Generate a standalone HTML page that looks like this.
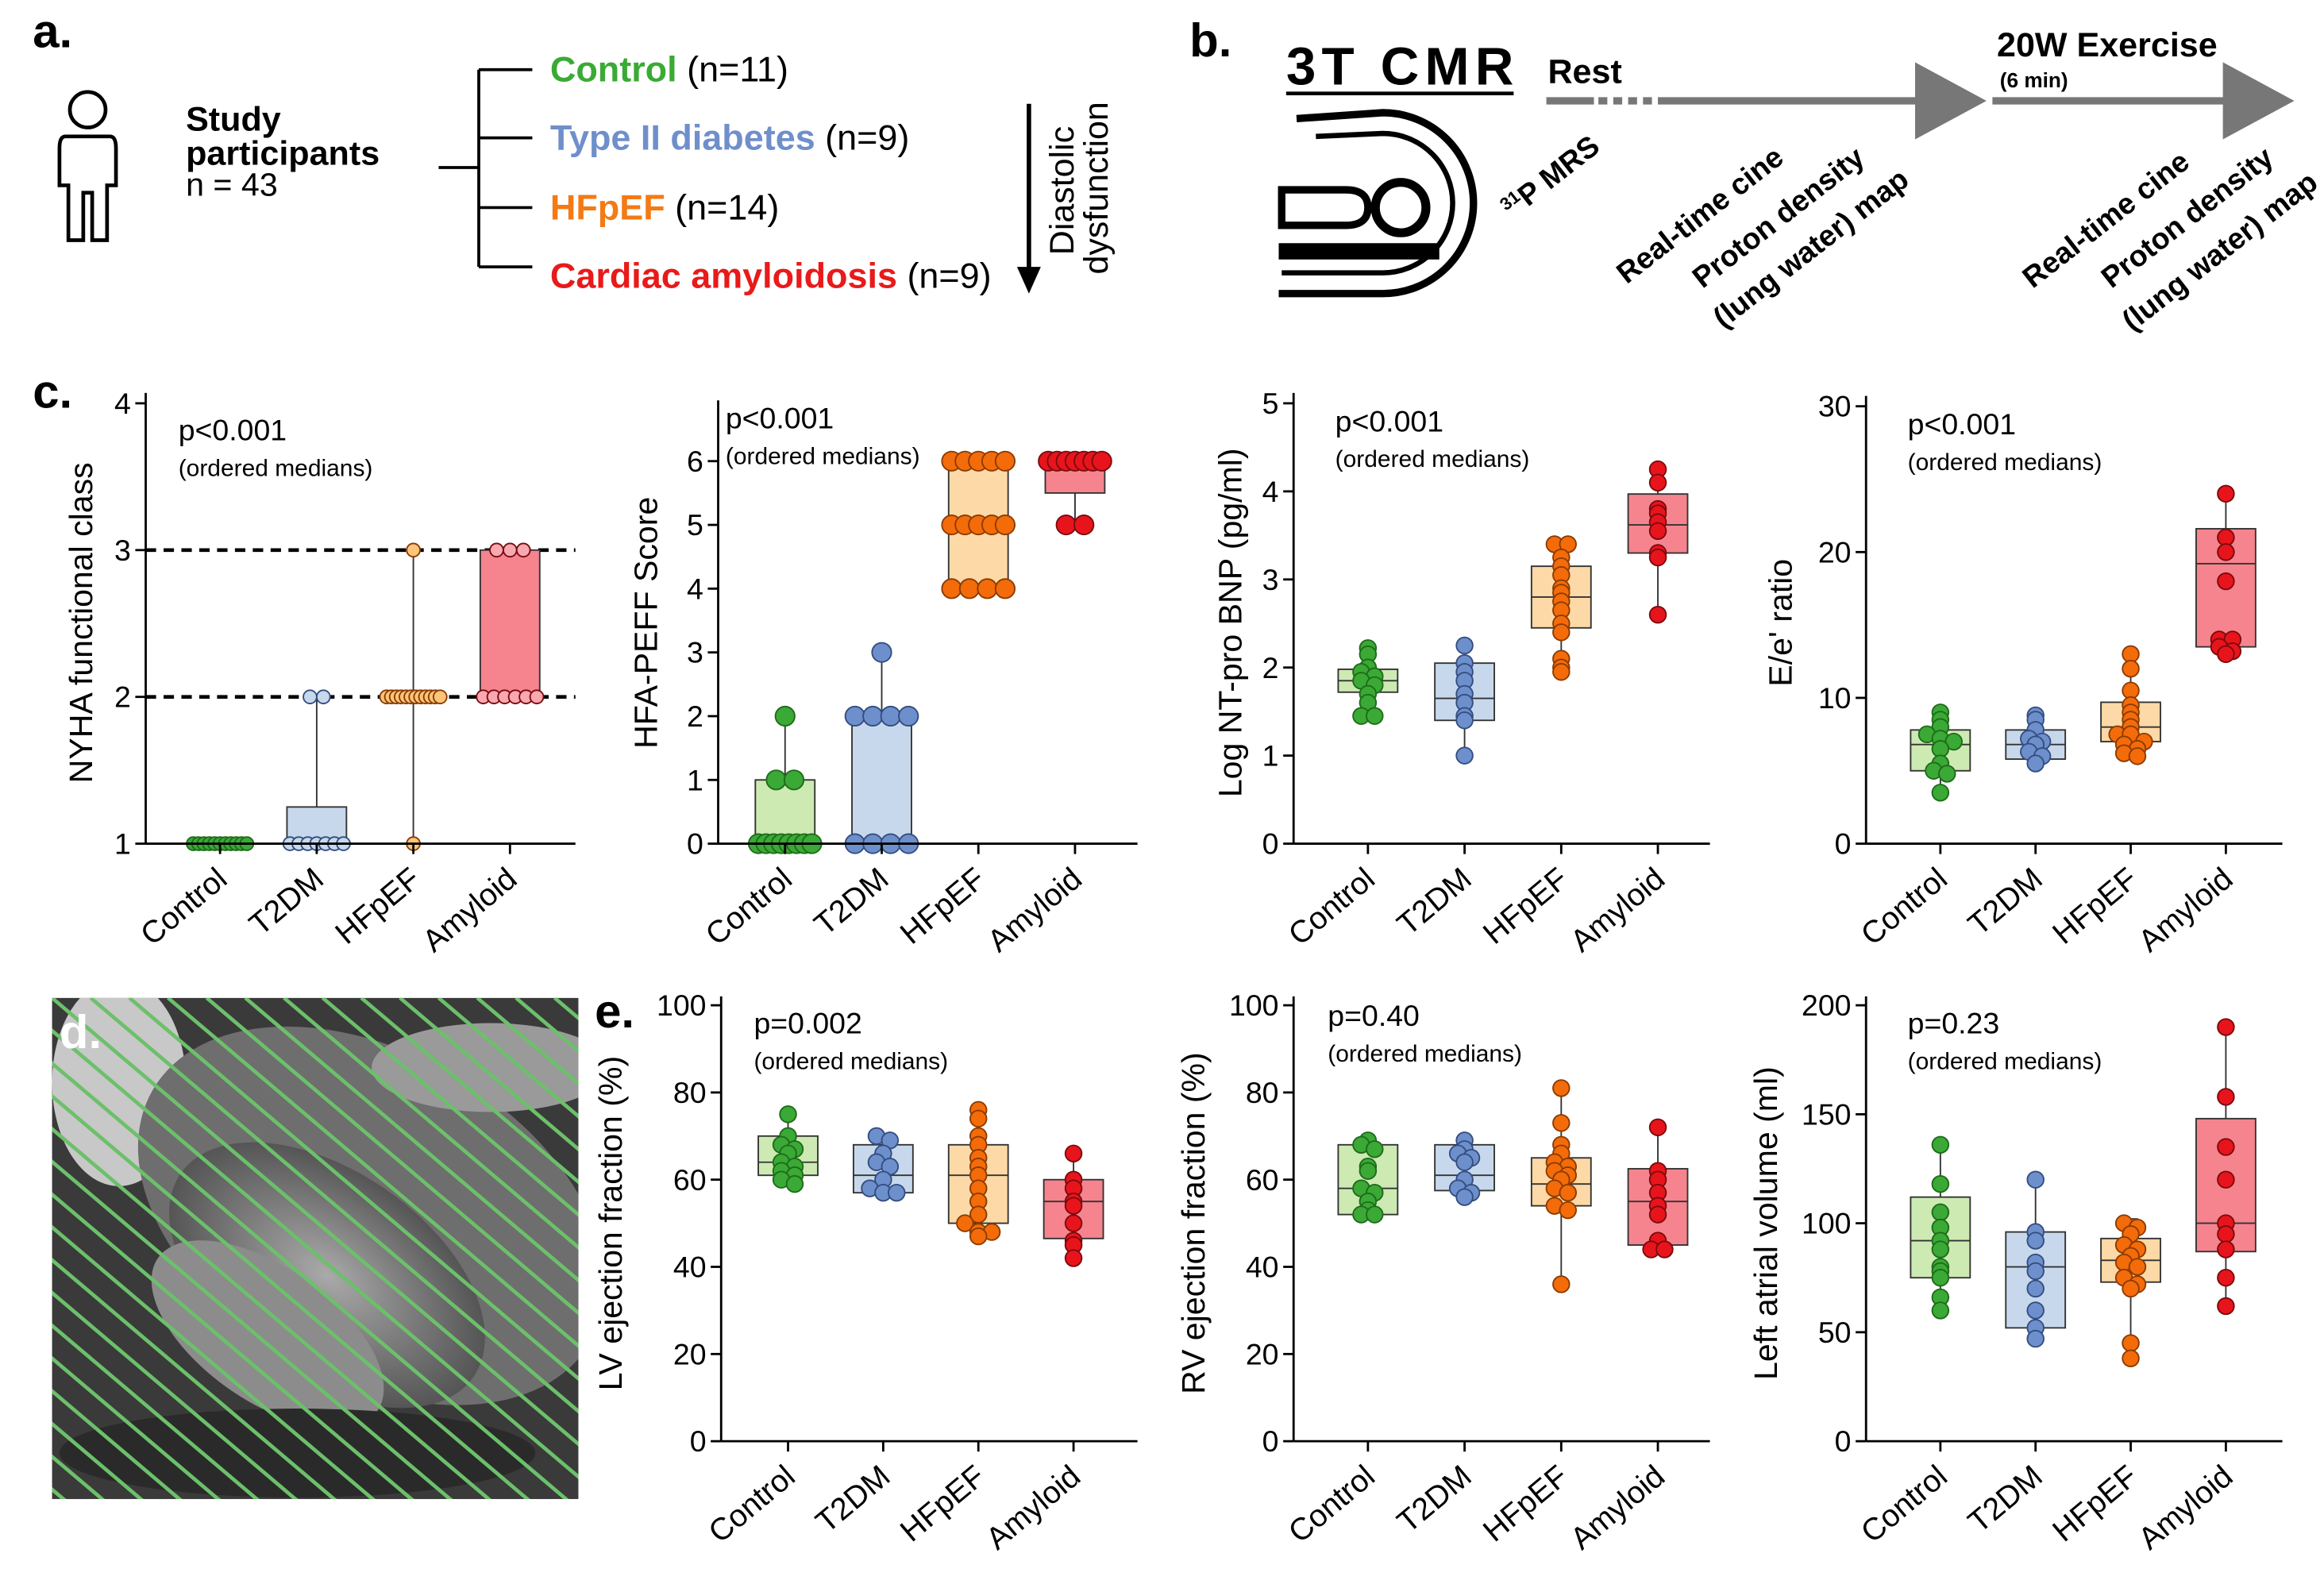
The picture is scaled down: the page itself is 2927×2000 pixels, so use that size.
<!DOCTYPE html>
<html><head><meta charset="utf-8"><style>
html,body{margin:0;padding:0;background:#fff;}
svg{display:block;font-family:"Liberation Sans",Arial,sans-serif;}
</style></head><body>
<svg id="fig" width="2927" height="2000" viewBox="0 0 1563 1071" preserveAspectRatio="none" xmlns="http://www.w3.org/2000/svg">
<rect width="1563" height="1071" fill="#fff"/>
<!-- Panel a -->
<g>
<text x="22" y="32" font-size="32" font-weight="bold">a.</text>
<g fill="none" stroke="#000" stroke-width="2.5">
<circle cx="59" cy="74" r="12"/>
<path d="M44 92 Q40 92 40 100 L40 125 L46 125 L46 162 L56 162 L56 130 L62 130 L62 162 L72 162 L72 125 L78 125 L78 100 Q78 92 74 92 Z"/>
</g>
<text x="125" y="88" font-size="23" font-weight="bold">Study</text>
<text x="125" y="111" font-size="23" font-weight="bold">participants</text>
<text x="125" y="132" font-size="22">n = 43</text>
<g stroke="#000" stroke-width="2">
<line x1="295" y1="113" x2="322" y2="113"/><line x1="322" y1="47" x2="322" y2="180"/>
<line x1="322" y1="47" x2="358" y2="47"/><line x1="322" y1="93" x2="358" y2="93"/>
<line x1="322" y1="140" x2="358" y2="140"/><line x1="322" y1="180" x2="358" y2="180"/>
</g>
<text x="370" y="55" font-size="24"><tspan font-weight="bold" fill="#3aaa35">Control</tspan> (n=11)</text>
<text x="370" y="101" font-size="24"><tspan font-weight="bold" fill="#6f8fcb">Type II diabetes</tspan> (n=9)</text>
<text x="370" y="148" font-size="24"><tspan font-weight="bold" fill="#f47a14">HFpEF</tspan> (n=14)</text>
<text x="370" y="194" font-size="24"><tspan font-weight="bold" fill="#e81a1a">Cardiac amyloidosis</tspan> (n=9)</text>
<line x1="692" y1="70" x2="692" y2="182" stroke="#000" stroke-width="3"/>
<polygon points="684,180 700,180 692,198" fill="#000"/>
<text transform="translate(722,172) rotate(-90)" font-size="23">Diastolic</text>
<text transform="translate(745,185) rotate(-90)" font-size="23">dysfunction</text>
</g>
<!-- Panel b -->
<g>
<text x="800" y="38" font-size="32" font-weight="bold">b.</text>
<text x="865" y="57" font-size="36" font-weight="bold" textLength="153">3T CMR</text>
<line x1="865" y1="63" x2="1018" y2="63" stroke="#000" stroke-width="2.5"/>
<g fill="none" stroke="#000">
<path d="M872 80 L930 76 A60 60 0 0 1 930 198 L860 198" stroke-width="5"/>
<path d="M885 92 L930 90 A47 47 0 0 1 930 184 L862 184" stroke-width="3.5"/>
<circle cx="942" cy="140" r="17" stroke-width="6"/>
<path d="M862 128 L905 128 Q920 128 920 140 Q920 152 905 152 L862 152 Z" stroke-width="5"/>
<rect x="860" y="164" width="108" height="11" fill="#000" stroke="none"/>
</g>
<text x="1041" y="56" font-size="23" font-weight="bold">Rest</text>
<g>
<line x1="1040" y1="68" x2="1072" y2="68" stroke="#777" stroke-width="5"/>
<line x1="1075" y1="68" x2="1115" y2="68" stroke="#777" stroke-width="5" stroke-dasharray="6,4"/>
<line x1="1115" y1="68" x2="1295" y2="68" stroke="#777" stroke-width="5"/>
<polygon points="1288,42 1336,68 1288,94" fill="#777"/>
<line x1="1340" y1="68" x2="1500" y2="68" stroke="#777" stroke-width="5"/>
<polygon points="1495,42 1543,68 1495,94" fill="#777"/>
</g>
<text x="1343" y="38" font-size="23" font-weight="bold">20W Exercise</text>
<text x="1345" y="59" font-size="14" font-weight="bold">(6 min)</text>
<g font-weight="bold" font-size="20">
<text transform="translate(1017,148) rotate(-38)"><tspan font-size="12" dy="-7">31</tspan><tspan dy="7">P MRS</tspan></text>
<text transform="translate(1094,192) rotate(-38)">Real-time cine</text>
<text transform="translate(1145,195) rotate(-38)">Proton density</text>
<text transform="translate(1159,222) rotate(-38)">(lung water) map</text>
<text transform="translate(1367,195) rotate(-38)">Real-time cine</text>
<text transform="translate(1420,195) rotate(-38)">Proton density</text>
<text transform="translate(1434,224) rotate(-38)">(lung water) map</text>
</g>
</g>
<text x="22" y="275" font-size="32" font-weight="bold">c.</text>
<!-- Panel d -->
<g>
<defs>
<clipPath id="dclip"><rect x="35" y="673" width="354" height="338"/></clipPath>
<radialGradient id="g1" cx="0.5" cy="0.5" r="0.5"><stop offset="0" stop-color="#aaa"/><stop offset="1" stop-color="#555"/></radialGradient>
</defs>
<g clip-path="url(#dclip)">
<rect x="35" y="673" width="354" height="338" fill="#3a3a3a"/>
<ellipse cx="80" cy="730" rx="45" ry="70" fill="#c8c8c8"/>
<ellipse cx="250" cy="820" rx="170" ry="110" fill="#6e6e6e" transform="rotate(30 250 820)"/>
<ellipse cx="220" cy="860" rx="120" ry="70" fill="url(#g1)" transform="rotate(35 220 860)"/>
<ellipse cx="180" cy="900" rx="90" ry="45" fill="#8c8c8c" transform="rotate(35 180 900)"/>
<ellipse cx="330" cy="720" rx="80" ry="30" fill="#9a9a9a"/>
<ellipse cx="200" cy="980" rx="160" ry="30" fill="#2a2a2a"/>
<g id="stripes" stroke="#6cc06a" stroke-width="2.5"></g>
</g>
<text x="40" y="707" font-size="32" font-weight="bold" fill="#fff">d.</text>
</g>
<text x="400" y="693" font-size="32" font-weight="bold">e.</text>
<g id="charts"></g>
</svg>
<script>
const categories = ['Control','T2DM','HFpEF','Amyloid'];
// NYHA
const nyhaMin=[1,1,1,2], nyhaQ1=[1,1,2,2], nyhaMed=[1,1,2,2], nyhaQ3=[1,1.25,2,3], nyhaMax=[1,2,3,3];
const nyhaPts=[[1,1,1,1,1,1,1,1,1,1,1],[1,1,1,1,1,1,1,2,2],[1,2,2,2,2,2,2,2,2,2,2,2,2,3],[2,2,2,2,2,2,3,3,3]];
const nyhaTicks=[1,2,3,4];
// HFA-PEFF
const hfaMin=[0,0,4,5], hfaQ1=[0,0,4,5.5], hfaMed=[0,2,5,6], hfaQ3=[1,2,6,6], hfaMax=[2,3,6,6];
const hfaPts=[[0,0,0,0,0,0,0,0,1,1,2],[0,0,0,0,2,2,2,2,3],[4,4,4,4,5,5,5,5,5,6,6,6,6,6],[5,5,6,6,6,6,6,6,6]];
const hfaTicks=[0,1,2,3,4,5,6];
// NT-proBNP
const bnpMin=[1.45,1.0,1.95,2.6], bnpQ1=[1.72,1.4,2.45,3.3], bnpMed=[1.85,1.65,2.8,3.62], bnpQ3=[1.98,2.05,3.15,3.97], bnpMax=[2.22,2.28,3.42,4.25];
const bnpPts=[[2.22,2.15,2.0,1.95,1.9,1.85,1.8,1.7,1.6,1.45,1.45],[2.25,2.05,1.95,1.85,1.7,1.6,1.45,1.4,1.0],[3.4,3.4,3.25,3.15,3.05,2.9,2.85,2.75,2.65,2.5,2.4,2.1,2.0,1.95],[4.25,4.1,3.8,3.75,3.65,3.55,3.3,3.25,2.6]];
const bnpTicks=[0,1,2,3,4,5];
// E/e'
const eeMin=[3.5,5.5,6,13], eeQ1=[5,5.8,7,13.5], eeMed=[6.8,6.8,8,19.2], eeQ3=[7.8,7.8,9.7,21.6], eeMax=[9,8.8,13,24];
const eePts=[[9,8.5,8,7.5,7.2,7,6.5,5.5,5,4.8,3.5],[8.8,8.5,7.8,7.2,7,6.8,6.3,6,5.5],[13,12,10.5,9.5,9,8.5,8,7.5,7.5,7,6.8,6.5,6.2,6],[24,21,20,18,14,14,13.5,13.2,13]];
const eeTicks=[0,10,20,30];
// LV EF
const lvMin=[59,56,47,42], lvQ1=[61,57,50,46.5], lvMed=[64,61,61,55], lvQ3=[70,68,68,60], lvMax=[75,70,76,66];
const lvPts=[[75,70,68,67,66,64,63,62,61,60,59],[70,69,66,64,63,60,58,57,57],[76,74,70,68,65,63,61,58,55,52,50,48,48,47],[66,60,58,55,54,50,46,45,42]];
const efTicks=[0,20,40,60,80,100];
// RV EF
const rvMin=[51,55,36,44], rvQ1=[52,57.5,54,45], rvMed=[58,61,59,55], rvQ3=[68,68,65,62.5], rvMax=[69,69,81,72];
const rvPts=[[69,68,67,63,62,58,57,55,53,52,52],[69,67,66,65,64,60,58,57,56],[81,73,68,66,64,63,62,61,60,58,57,54,53,36],[72,62,60,57,54,52,46,44,44]];
// LA volume
const laMin=[60,46,37,62], laQ1=[75,52,73,87], laMed=[92,80,83,100], laQ3=[112,96,93,148], laMax=[136,120,102,190];
const laPts=[[136,118,105,98,92,88,80,78,75,66,60],[120,96,92,82,78,70,60,52,47],[100,98,95,90,88,85,82,80,75,72,70,45,38],[190,158,135,120,100,95,88,75,62]];
const laTicks=[0,50,100,150,200];

const NS='http://www.w3.org/2000/svg';
const fills=['#cdeab2','#c8d8ec','#fcd9a6','#f5848e'];
const dots=['#3aa935','#6d8fcb','#f46b0a','#e8141c'];
const strokes=['#1e6b1a','#334d80','#8a3b00','#7a0a0e'];
const root=document.getElementById('charts');
function mk(tag,attrs,parent){const e=document.createElementNS(NS,tag);for(const k in attrs)e.setAttribute(k,attrs[k]);(parent||root).appendChild(e);return e;}

function chart(c){
  const g=mk('g',{});
  
  
  const y=v=>c.y0-(v-c.vmin)/(c.vmax-c.vmin)*(c.y0-c.y1);
  const x=i=>c.ax+c.first+i*c.step;
  if(c.dashed){c.dashed.forEach(v=>{const l=mk('line',{x1:c.ax,x2:c.xend,y1:y(v),y2:y(v),stroke:'#000','stroke-width':2.5,'stroke-dasharray':'7,5'},g);
    
    });}
  for(let i=0;i<4;i++){
    const bg=mk('g',{},g);
    
    
    const cx=x(i), hw=c.bw/2, fc=c.fills?c.fills[i]:fills[i];
    mk('line',{x1:cx,x2:cx,y1:y(c.max[i]),y2:y(c.min[i]),stroke:'#333','stroke-width':1},bg);
    mk('line',{x1:cx-5,x2:cx+5,y1:y(c.max[i]),y2:y(c.max[i]),stroke:'#333','stroke-width':1},bg);
    mk('line',{x1:cx-5,x2:cx+5,y1:y(c.min[i]),y2:y(c.min[i]),stroke:'#333','stroke-width':1},bg);
    mk('rect',{x:cx-hw,y:y(c.q3[i]),width:c.bw,height:Math.max(0.5,y(c.q1[i])-y(c.q3[i])),fill:fc,stroke:'#333','stroke-width':1},bg);
    mk('line',{x1:cx-hw,x2:cx+hw,y1:y(c.med[i]),y2:y(c.med[i]),stroke:'#333','stroke-width':1},bg);
    const pts=c.pts[i];const counts={};
    pts.forEach(v=>{const key=Math.round((y(v))/c.bin);counts[key]=(counts[key]||0)+1;});
    const seen={};
    pts.forEach(v=>{const key=Math.round(y(v)/c.bin);const n=counts[key];const k=seen[key]=(seen[key]||0)+1;
      const sp=n>1?Math.min(c.sp,(c.bw-4)/(n-1)):0;
      const off=(k-1-(n-1)/2)*sp;
      const p=mk('circle',{cx:cx+off,cy:y(v),r:c.r,fill:c.dot?c.dot[i]:dots[i],stroke:strokes[i],'stroke-width':1},bg);
      
      });
  }
  const ya=mk('line',{x1:c.ax,x2:c.ax,y1:c.y0,y2:c.ytop,stroke:'#000','stroke-width':1.5},g);
  
  
  const xa=mk('line',{x1:c.ax,x2:c.xend,y1:c.y0,y2:c.y0,stroke:'#000','stroke-width':1.5},g);
  
  
  c.ticks.forEach(v=>{mk('line',{x1:c.ax-7,x2:c.ax,y1:y(v),y2:y(v),stroke:'#000','stroke-width':1.5},g);
    const t=mk('text',{x:c.ax-10,y:y(v)+7,'font-size':20,'text-anchor':'end'},g);t.textContent=v;
    
    });
  categories.forEach((n,i)=>{mk('line',{x1:x(i),x2:x(i),y1:c.y0,y2:c.y0+7,stroke:'#000','stroke-width':1.5},g);
    const t=mk('text',{transform:`translate(${x(i)+6},${c.y0+26}) rotate(-40)`,'font-size':21,'text-anchor':'end'},g);t.textContent=n;
    
    });
  const tt=mk('text',{transform:`translate(${c.tx},${c.ty}) rotate(-90)`,'font-size':22,'text-anchor':'middle'},g);tt.textContent=c.title;
  
  
  const p=mk('text',{x:c.px,y:c.py,'font-size':20},g);p.textContent=c.p;
  
  
  const o=mk('text',{x:c.px,y:c.py+24,'font-size':16},g);o.textContent='(ordered medians)';
  
  
}
const cb={first:50,step:65,bw:40,r:5.5,sp:9,bin:6};
chart(Object.assign({},cb,{name:'nyha-chart',ax:98,xend:387,y0:569,y1:272,ytop:265,vmin:1,vmax:4,ticks:nyhaTicks,min:nyhaMin,q1:nyhaQ1,med:nyhaMed,q3:nyhaQ3,max:nyhaMax,pts:nyhaPts,title:'NYHA functional class',tx:62,ty:420,p:'p<0.001',px:120,py:297,dashed:[2,3],r:4.5,sp:9,fills:['#cdeab2','#c8d8ec','#fcd9a6','#f5848e'],dot:['#3aa935','#c8d8ec','#fcc57a','#f8a8b0']}));
chart(Object.assign({},cb,{name:'hfa-peff-chart',ax:483,xend:765,first:45,y0:569,y1:311,ytop:270,vmin:0,vmax:6,ticks:hfaTicks,min:hfaMin,q1:hfaQ1,med:hfaMed,q3:hfaQ3,max:hfaMax,pts:hfaPts,title:'HFA-PEFF  Score',tx:442,ty:420,p:'p<0.001',px:488,py:289,r:6.5,sp:12}));
chart(Object.assign({},cb,{name:'ntprobnp-chart',ax:870,xend:1150,y0:569,y1:272,ytop:265,vmin:0,vmax:5,ticks:bnpTicks,min:bnpMin,q1:bnpQ1,med:bnpMed,q3:bnpQ3,max:bnpMax,pts:bnpPts,title:'Log NT-pro BNP (pg/ml)',tx:835,ty:420,p:'p<0.001',px:898,py:291}));
chart(Object.assign({},cb,{name:'e-e-prime-chart',ax:1255,xend:1535,y0:569,y1:274,ytop:267,vmin:0,vmax:30,ticks:eeTicks,min:eeMin,q1:eeQ1,med:eeMed,q3:eeQ3,max:eeMax,pts:eePts,title:"E/e' ratio",tx:1205,ty:420,p:'p<0.001',px:1283,py:293,step:64}));
chart(Object.assign({},cb,{name:'lv-ef-chart',ax:485,xend:765,first:45,step:64,y0:972,y1:678,ytop:672,vmin:0,vmax:100,ticks:efTicks,min:lvMin,q1:lvQ1,med:lvMed,q3:lvQ3,max:lvMax,pts:lvPts,title:'LV ejection fraction (%)',tx:418,ty:825,p:'p=0.002',px:507,py:697}));
chart(Object.assign({},cb,{name:'rv-ef-chart',ax:870,xend:1150,y0:972,y1:678,ytop:672,vmin:0,vmax:100,ticks:efTicks,min:rvMin,q1:rvQ1,med:rvMed,q3:rvQ3,max:rvMax,pts:rvPts,title:'RV ejection fraction (%)',tx:810,ty:825,p:'p=0.40',px:893,py:692}));
chart(Object.assign({},cb,{name:'la-volume-chart',ax:1255,xend:1535,step:64,y0:972,y1:678,ytop:672,vmin:0,vmax:200,ticks:laTicks,min:laMin,q1:laQ1,med:laMed,q3:laQ3,max:laMax,pts:laPts,title:'Left atrial volume (ml)',tx:1195,ty:825,p:'p=0.23',px:1283,py:697}));
const sg=document.getElementById('stripes');
for(let k=-20;k<20;k++){const x0=35+k*26;mk('line',{x1:x0,y1:673,x2:x0+400,y2:673+340},sg);}
</script>
</body></html>
